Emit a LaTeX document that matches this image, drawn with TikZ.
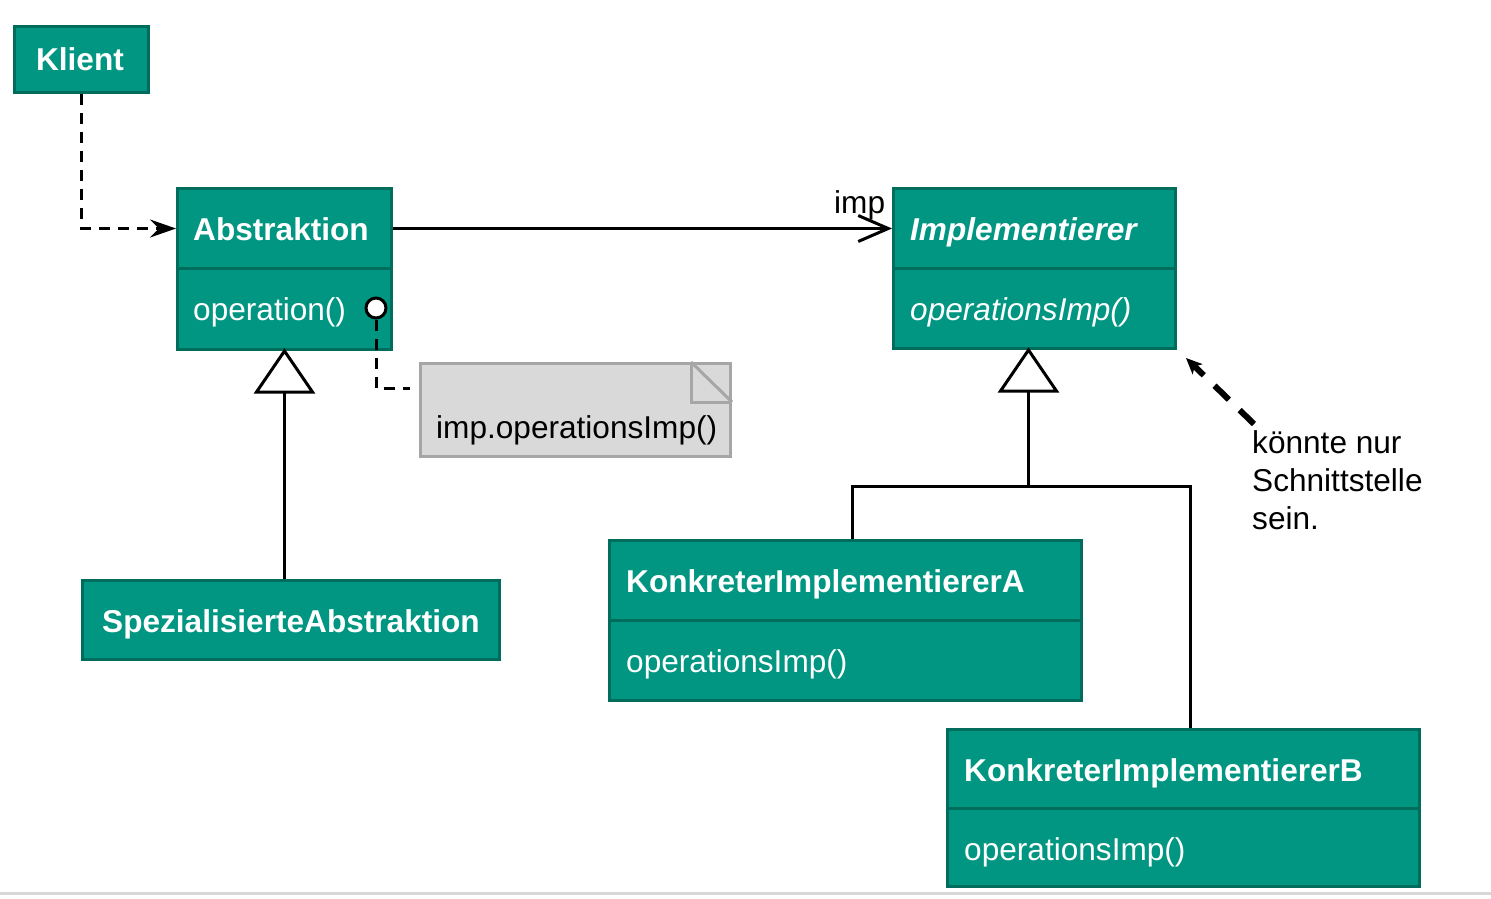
\documentclass[tikz,border=0pt]{standalone}
\usepackage{fontspec}
\setmainfont{Liberation Sans}
\usetikzlibrary{arrows.meta}
\definecolor{tealfill}{RGB}{0,150,130}
\definecolor{tealline}{RGB}{0,108,92}
\definecolor{notefill}{RGB}{217,217,217}
\definecolor{noteline}{RGB}{166,166,166}
\definecolor{bottomgray}{RGB}{215,215,215}
\begin{document}
\begin{tikzpicture}[x=1pt,y=-1pt,
  comp/.style={draw=tealline, fill=tealfill, line width=3pt, anchor=north west, inner sep=0pt},
  ctext/.style={anchor=base west, inner sep=0pt, text=white, font=\fontsize{31.6}{37}\selectfont},
  btext/.style={ctext, font=\fontsize{31.6}{37}\selectfont\bfseries},
  ktext/.style={anchor=base west, inner sep=0pt, text=black, font=\fontsize{31.6}{37}\selectfont},
  conn/.style={draw=black, line width=3pt},
  dep/.style={conn, dash pattern=on 11pt off 8pt, -{Stealth[length=26pt,width=18pt,inset=9pt]}},
  assoc/.style={conn, -{Straight Barb[length=30pt,width=26pt]}},
  gentri/.style={draw=black, fill=white, line width=3pt, line join=miter},
  thickdash/.style={draw=black, line width=6pt, dash pattern=on 20pt off 15pt, -{Stealth[length=16pt,width=14pt,inset=4pt]}},
  notebox/.style={draw=noteline, fill=notefill, line width=3pt, anchor=north west, inner sep=0pt}
]
\useasboundingbox (0,0) rectangle (1491,898);
\draw[bottomgray, line width=3pt] (0,893) -- (1491,893);

% classes
\node[comp, minimum width=134pt, minimum height=66pt] (klient) at (13,25) {};
\node[comp, minimum width=214pt, minimum height=80pt] (absH) at (176,187) {};
\node[comp, minimum width=214pt, minimum height=81pt] (absB) at (176,267) {};
\node[comp, minimum width=282pt, minimum height=80pt] (implH) at (892,187) {};
\node[comp, minimum width=282pt, minimum height=80pt] (implB) at (892,267) {};
\node[comp, minimum width=417pt, minimum height=79pt] (spez) at (81,579) {};
\node[comp, minimum width=472pt, minimum height=80pt] (kiaH) at (608,539) {};
\node[comp, minimum width=472pt, minimum height=80pt] (kiaB) at (608,619) {};
\node[comp, minimum width=472pt, minimum height=79pt] (kibH) at (946,728) {};
\node[comp, minimum width=472pt, minimum height=78pt] (kibB) at (946,807) {};

% texts
\node[btext, anchor=base] (tklient) at (80,70) {Klient};
\node[btext] (tabs) at (193,240) {Abstraktion};
\node[ctext] (tabsop) at (193,320) {operation()};
\node[btext, font=\fontsize{31.6}{37}\selectfont\bfseries\itshape] (timpl) at (910,240) {Implementierer};
\node[ctext, font=\fontsize{31.6}{37}\selectfont\itshape] (timplop) at (910,320) {operationsImp()};
\node[btext] (tspez) at (102,632) {SpezialisierteAbstraktion};
\node[btext] (tkia) at (626,592) {KonkreterImplementiererA};
\node[ctext] (tkiaop) at (626,672) {operationsImp()};
\node[btext] (tkib) at (964,781) {KonkreterImplementiererB};
\node[ctext] (tkibop) at (964,860) {operationsImp()};

% note
\node[notebox, minimum width=310pt, minimum height=93pt] (note) at (419,362) {};
\draw[noteline, line width=3pt] ([xshift=-41pt]note.north east) -- ++(0,40) -- ([yshift=-40pt]note.north east);
\draw[noteline, line width=3pt] ([xshift=-41pt]note.north east) -- ([yshift=-40pt]note.north east);
\node[ktext] (tnote) at (436,438) {imp.operationsImp()};

% Klient dependency
\draw[dep] (klient.south) |- (absH.west);

% association
\draw[assoc] (absH.east) -- (implH.west);
\node[ktext] (timp) at (834,213) {imp};

% circle + note link
\node[circle, draw=black, fill=white, line width=3pt, minimum size=20pt, inner sep=0pt] (circ) at (376,308) {};
\coordinate (nc) at (410,388);
\draw[conn, dash pattern=on 11pt off 8pt] (circ.south) |- (nc);

% generalization Spez -> Abstraktion
\draw[conn] (spez.north -| absB.south) -- ([yshift=-41pt]absB.south);
\draw[gentri] (absB.south) -- ++(-28,41) -- ++(56,0) -- cycle;

% generalization tree -> Implementierer
\coordinate (gi) at ([xshift=-6pt]implB.south);
\coordinate (branch) at ([xshift=-6pt,yshift=-136pt]implB.south);
\draw[conn] ([yshift=-41pt]gi) -- (branch);
\draw[conn] ([xshift=7pt]kiaH.north) |- (branch) -| ([xshift=7pt]kibH.north);
\draw[gentri] (gi) -- ++(-28,41) -- ++(56,0) -- cycle;

% remark
\coordinate (ds) at (1254,424);
\draw[thickdash] (ds) -- ([xshift=9pt,yshift=-8pt]implB.south east);
\node[ktext] (r1) at (1252,453) {könnte nur};
\node[ktext] (r2) at (1252,491) {Schnittstelle};
\node[ktext] (r3) at (1252,529) {sein.};
\end{tikzpicture}
\end{document}
